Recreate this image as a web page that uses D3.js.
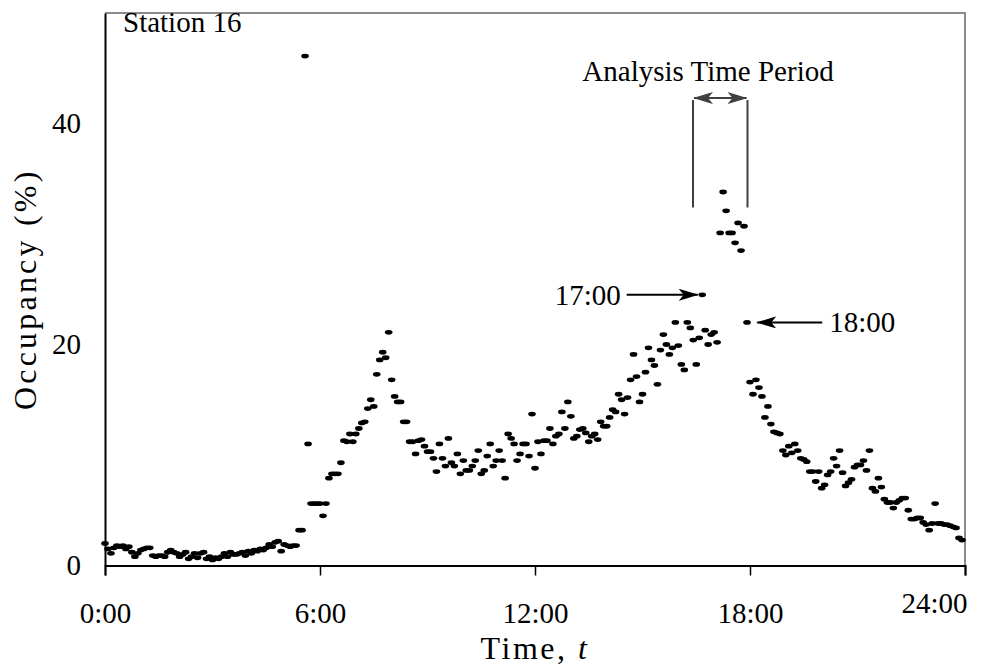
<!DOCTYPE html>
<html>
<head>
<meta charset="utf-8">
<script src="https://cdn.jsdelivr.net/npm/d3@7"></script>
<style>
  body { margin: 0; background: #fff; }
  svg { display: block; font-family: "Liberation Serif", "Times New Roman", serif; }
</style>
</head>
<body>
<svg id="chart" width="999" height="667"></svg>
<script>
// occupancy (%) every 5 minutes, split into 6-hour blocks
const occ00to06 = [
  2.0, 1.5, 1.1, 1.6, 1.8, 1.7, 1.8, 1.5, 1.7, 1.2,
  0.8, 1.1, 1.4, 1.5, 1.6, 1.6, 0.9, 0.8, 0.9, 0.9,
  0.8, 1.2, 1.4, 1.2, 1.1, 0.8, 1.0, 1.2, 0.6, 0.8,
  1.1, 0.7, 1.1, 1.2, 0.6, 0.8, 0.5, 0.7, 0.6, 0.8,
  1.1, 0.8, 1.2, 1.0, 1.0, 1.1, 1.2, 0.9, 1.3, 1.1,
  1.4, 1.3, 1.5, 1.4, 1.6, 1.9, 1.7, 2.1, 2.2, 1.3,
  1.9, 1.8, 1.7, 1.8, 1.8, 3.2, 3.2, 46.1, 11.0, 5.6,
  5.6, 5.6
];
const occ06to12 = [
  5.6, 4.5, 5.6, 7.9, 8.3, 8.3, 8.3, 9.3, 11.3, 11.2,
  11.9, 11.2, 11.9, 12.4, 12.9, 13.0, 14.2, 15.0, 14.4, 17.3,
  18.6, 19.3, 18.8, 21.1, 16.8, 15.3, 14.8, 14.8, 13.0, 13.0,
  11.2, 11.2, 10.1, 11.3, 11.4, 10.8, 10.3, 10.3, 9.7, 8.5,
  11.0, 9.7, 9.0, 11.5, 9.3, 9.0, 10.1, 8.3, 9.5, 8.6,
  8.6, 9.0, 9.5, 10.4, 8.3, 8.6, 9.9, 11.0, 9.0, 9.5,
  10.4, 9.5, 7.9, 11.9, 11.5, 11.0, 9.5, 10.1, 11.0, 11.0,
  9.9, 13.7
];
const occ12to18 = [
  8.8, 11.2, 10.1, 11.3, 11.3, 12.4, 11.0, 11.7, 11.9, 13.9,
  12.4, 14.8, 13.5, 11.5, 11.7, 12.3, 12.4, 12.0, 11.2, 11.7,
  11.9, 11.4, 13.0, 12.6, 12.6, 13.4, 14.1, 13.9, 15.5, 15.0,
  13.7, 15.2, 16.8, 19.1, 17.1, 14.8, 15.5, 17.5, 19.7, 18.6,
  18.1, 16.4, 19.5, 20.9, 20.0, 19.1, 19.7, 22.0, 19.9, 18.2,
  17.7, 22.0, 21.5, 20.4, 18.2, 20.6, 24.5, 21.3, 20.0, 20.9,
  21.1, 20.2, 30.1, 33.8, 32.1, 30.1, 30.1, 29.2, 31.0, 28.5,
  30.7, 22.0
];
const occ18to24 = [
  16.6, 15.5, 16.8, 16.1, 15.3, 13.4, 14.4, 12.8, 12.1, 12.0,
  11.9, 10.4, 10.0, 10.8, 10.2, 11.0, 10.4, 9.7, 9.6, 9.4,
  8.5, 8.5, 7.6, 8.5, 7.0, 7.3, 8.2, 8.5, 9.7, 9.0,
  10.4, 8.4, 7.2, 7.5, 7.8, 8.9, 9.1, 9.1, 9.5, 8.6,
  10.4, 7.0, 6.7, 7.9, 7.1, 6.0, 5.7, 5.7, 5.2, 5.7,
  5.9, 6.1, 6.1, 5.0, 4.2, 4.2, 4.3, 4.3, 3.9, 3.7,
  3.2, 3.8, 5.6, 3.8, 3.8, 3.7, 3.7, 3.6, 3.5, 3.4,
  2.5, 2.3
];
const stepMinutes = 5;

const xTicks = [0, 6, 12, 18, 24];
const xTickLabels = ["0:00", "6:00", "12:00", "18:00", "24:00"];
const yTicks = [0, 20, 40];

// annotation times (hours) and levels (%)
const periodStart = 16.41;
const periodEnd = 17.93;
const periodLineBottom = 32.4;
const periodArrowLevel = 42.3;
const label17 = { text: "17:00", t: 16.68, v: 24.5 };
const label18 = { text: "18:00", t: 17.95, v: 22.0 };

const width = 999, height = 667;
const margin = { top: 13, right: 34, bottom: 101.5, left: 105 };

const svg = d3.select("#chart");
const fontSize = 29;
const titleSize = 32;

const x = d3.scaleLinear().domain([0, 24]).range([margin.left, width - margin.right]);
const y = d3.scaleLinear().domain([0, 50]).range([height - margin.bottom, margin.top]);

const data = [...occ00to06, ...occ06to12, ...occ12to18, ...occ18to24]
  .map((v, i) => ({ t: (i * stepMinutes) / 60, v }));

// plot frame (top/right gray)
svg.append("path")
  .attr("d", `M${x(0)},${y(50)}H${x(24)}V${y(0)}`)
  .attr("fill", "none")
  .attr("stroke", "#8c8c8c")
  .attr("stroke-width", 2);

// x axis
const xAxis = svg.append("g")
  .attr("transform", `translate(0,${y(0)})`)
  .call(d3.axisBottom(x).tickValues(xTicks).tickSize(10).tickFormat((d, i) => xTickLabels[i]));
xAxis.select(".domain").attr("stroke", "#000").attr("stroke-width", 2);
xAxis.selectAll(".tick line").attr("stroke", "#000").attr("stroke-width", 1.5);
xAxis.selectAll(".tick text")
  .attr("font-family", "Liberation Serif, serif")
  .attr("font-size", fontSize)
  .attr("fill", "#000")
  .attr("dy", 0)
  .attr("y", 57);
// last label sits shifted up/left like the original
xAxis.selectAll(".tick text").filter(d => d === 24)
  .attr("text-anchor", "end").attr("x", 2).attr("y", 47);

// y axis
const yAxis = svg.append("g")
  .attr("transform", `translate(${x(0)},0)`)
  .call(d3.axisLeft(y).tickValues(yTicks).tickSize(0).tickPadding(24));
yAxis.select(".domain").attr("stroke", "#000").attr("stroke-width", 2);
yAxis.selectAll(".tick text")
  .attr("font-family", "Liberation Serif, serif")
  .attr("font-size", fontSize)
  .attr("fill", "#000");

// axis titles
svg.append("text")
  .attr("x", x(12))
  .attr("y", 659)
  .attr("text-anchor", "middle")
  .attr("font-size", titleSize)
  .attr("letter-spacing", 2.5)
  .html('Time,&#160;<tspan font-style="italic">t</tspan>');

svg.append("text")
  .attr("transform", `translate(36,${y(25)}) rotate(-90)`)
  .attr("text-anchor", "middle")
  .attr("font-size", titleSize)
  .attr("letter-spacing", 3.2)
  .text("Occupancy (%)");

svg.append("text")
  .attr("x", 123)
  .attr("y", 32)
  .attr("font-size", fontSize)
  .text("Station 16");

// points
svg.append("g")
  .selectAll("ellipse")
  .data(data)
  .join("ellipse")
  .attr("cx", d => x(d.t))
  .attr("cy", d => y(d.v))
  .attr("rx", 3.8)
  .attr("ry", 2.4)
  .attr("fill", "#000");

// arrow markers
const defs = svg.append("defs");
function marker(id, color) {
  defs.append("marker")
    .attr("id", id)
    .attr("viewBox", "0 0 20 12")
    .attr("refX", 19)
    .attr("refY", 6)
    .attr("markerWidth", 20)
    .attr("markerHeight", 12)
    .attr("markerUnits", "userSpaceOnUse")
    .attr("orient", "auto-start-reverse")
    .append("path")
    .attr("d", "M0,0 L20,6 L0,12 L5,6 Z")
    .attr("fill", color);
}
marker("arrowBlack", "#000");
marker("arrowGray", "#404040");

// analysis time period bracket
const ann = svg.append("g");
[periodStart, periodEnd].forEach(t => {
  ann.append("line")
    .attr("x1", x(t)).attr("x2", x(t))
    .attr("y1", y(periodArrowLevel) + 2).attr("y2", y(periodLineBottom))
    .attr("stroke", "#404040").attr("stroke-width", 2);
});
ann.append("line")
  .attr("x1", x(periodStart) + 1).attr("x2", x(periodEnd) - 1)
  .attr("y1", y(periodArrowLevel)).attr("y2", y(periodArrowLevel))
  .attr("stroke", "#404040").attr("stroke-width", 2)
  .attr("marker-start", "url(#arrowGray)")
  .attr("marker-end", "url(#arrowGray)");
ann.append("text")
  .attr("x", 708)
  .attr("y", 81)
  .attr("text-anchor", "middle")
  .attr("font-size", fontSize)
  .text("Analysis Time Period");

// 17:00 / 18:00 callouts
ann.append("line")
  .attr("x1", x(label17.t) - 76).attr("x2", x(label17.t) - 5)
  .attr("y1", y(label17.v)).attr("y2", y(label17.v))
  .attr("stroke", "#000").attr("stroke-width", 2)
  .attr("marker-end", "url(#arrowBlack)");
ann.append("text")
  .attr("x", x(label17.t) - 82)
  .attr("y", y(label17.v) + 10)
  .attr("text-anchor", "end")
  .attr("font-size", fontSize)
  .text(label17.text);

ann.append("line")
  .attr("x1", x(label18.t) + 74).attr("x2", x(label18.t) + 9)
  .attr("y1", y(label18.v)).attr("y2", y(label18.v))
  .attr("stroke", "#000").attr("stroke-width", 2)
  .attr("marker-end", "url(#arrowBlack)");
ann.append("text")
  .attr("x", x(label18.t) + 81)
  .attr("y", y(label18.v) + 10)
  .attr("font-size", fontSize)
  .text(label18.text);
</script>
</body>
</html>
